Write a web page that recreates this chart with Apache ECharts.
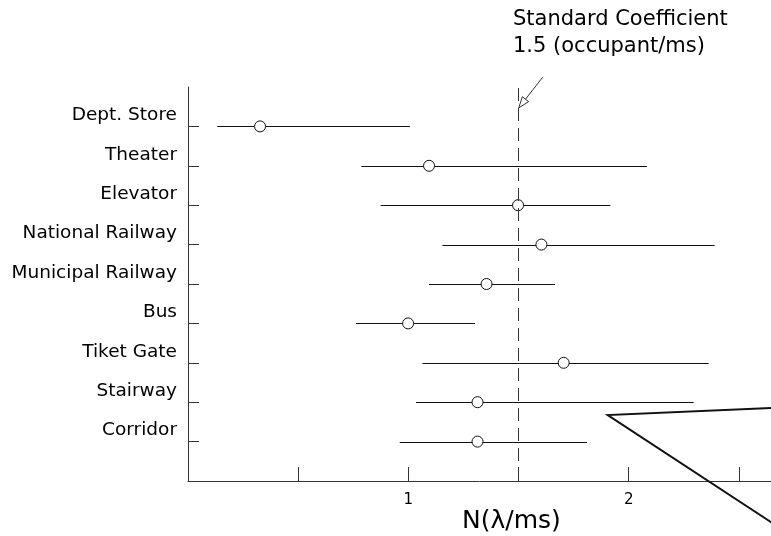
<!DOCTYPE html>
<html>
<head>
<meta charset="utf-8">
<script src="https://cdn.jsdelivr.net/npm/echarts@6/dist/echarts.min.js"></script>
<style>html,body{margin:0;padding:0;background:#fff;}#c{width:771px;height:536px;}</style>
</head>
<body>
<div id="c"></div>
<script>
// Categories, top to bottom
const categories = ['Dept. Store', 'Theater', 'Elevator', 'National Railway', 'Municipal Railway', 'Bus', 'Tiket Gate', 'Stairway', 'Corridor'];
// Mean values (circles)
const meanValues = [0.327, 1.094, 1.498, 1.604, 1.355, 0.999, 1.705, 1.314, 1.314];
// Range lower / upper ends
const lowValues = [0.133, 0.787, 0.874, 1.155, 1.094, 0.762, 1.064, 1.035, 0.961];
const highValues = [1.007, 2.083, 1.917, 2.390, 1.666, 1.303, 2.363, 2.295, 1.811];
// Reference line (standard coefficient)
const standardValue = 1.5;
// X tick positions and labelled ticks
const xTickValues = [0.5, 1, 1.5, 2, 2.5];
const xLabelValues = [1, 2];
// Annotation texts
const annotationText = 'Standard Coefficient\n1.5 (occupant/ms)';
const xAxisTitle = 'N(\u03bb/ms)';
// Annotation arrow (data space): tail -> head
const arrowPoints = [[1.61, 10.25], [1.501, 9.47]];
// Callout polyline at lower right (data space)
const calloutPoints = [[2.776, 1.883], [1.905, 1.675], [2.776, -1.52]];

const n = categories.length;
const yOf = i => n - i; // Dept. Store at top (9), Corridor at bottom (1)
const yTickValues = categories.map((c, i) => yOf(i));
const FONT = 'DejaVu Sans';

const chart = echarts.init(document.getElementById('c'), null, {renderer: 'canvas'});

const rangeData = categories.map((c, i) => [lowValues[i], highValues[i], yOf(i)]);
const meanData = categories.map((c, i) => [meanValues[i], yOf(i)]);

chart.setOption({
  animation: false,
  backgroundColor: '#fff',
  grid: {left: 188, top: 87, right: 0, bottom: 55, containLabel: false},
  xAxis: {
    type: 'value', min: 0, max: 2.646,
    axisLine: {show: true, lineStyle: {color: '#333', width: 1}},
    axisTick: {show: true, inside: true, length: 14, customValues: xTickValues, lineStyle: {color: '#333'}},
    axisLabel: {customValues: xLabelValues, margin: 12, fontFamily: FONT, fontSize: 15, color: '#000'},
    splitLine: {show: false}
  },
  yAxis: {
    type: 'value', min: 0, max: 10,
    axisLine: {show: true, lineStyle: {color: '#333', width: 1}},
    axisTick: {show: true, inside: true, length: 11, customValues: yTickValues, lineStyle: {color: '#333'}},
    axisLabel: {
      customValues: yTickValues, margin: 11, fontFamily: FONT, fontSize: 18.5, color: '#000',
      verticalAlign: 'bottom', lineHeight: 22,
      formatter: v => categories[n - Math.round(v)]
    },
    splitLine: {show: false}
  },
  graphic: [
    {type: 'text', left: 513, top: 6, style: {text: annotationText, fontFamily: FONT, fontSize: 21, lineHeight: 27, fill: '#000'}},
    {type: 'text', left: 462, top: 509, style: {text: xAxisTitle, fontFamily: FONT, fontSize: 25, fill: '#000'}}
  ],
  series: [
    {
      type: 'custom', name: 'range', data: rangeData, z: 2,
      renderItem: (params, api) => {
        const p1 = api.coord([api.value(0), api.value(2)]);
        const p2 = api.coord([api.value(1), api.value(2)]);
        return {type: 'line', shape: {x1: p1[0], y1: Math.round(p1[1]) + 0.5, x2: p2[0], y2: Math.round(p2[1]) + 0.5}, style: {stroke: '#111', lineWidth: 1}};
      }
    },
    {
      type: 'scatter', name: 'mean', data: meanData, z: 3,
      symbol: 'circle', symbolSize: 11,
      itemStyle: {color: '#fff', borderColor: '#111', borderWidth: 1, opacity: 1},
      markLine: {
        silent: true, symbol: ['none', 'none'],
        label: {show: false},
        lineStyle: {color: '#333', type: [13, 7], width: 1},
        data: [{xAxis: standardValue}]
      }
    },
    {
      type: 'custom', name: 'annotations', data: [0], clip: false, z: 4, silent: true,
      renderItem: (params, api) => {
        const a = api.coord(arrowPoints[0]);
        const b = api.coord(arrowPoints[1]);
        const ang = Math.atan2(b[1] - a[1], b[0] - a[0]);
        const L = 11, W = 4;
        const bx = b[0] - L * Math.cos(ang), by = b[1] - L * Math.sin(ang);
        const px = -Math.sin(ang) * W, py = Math.cos(ang) * W;
        const pts = calloutPoints.map(p => api.coord(p));
        return {type: 'group', children: [
          {type: 'line', shape: {x1: a[0], y1: a[1], x2: bx, y2: by}, style: {stroke: '#333', lineWidth: 1}},
          {type: 'polygon', shape: {points: [[b[0], b[1]], [bx + px, by + py], [bx - px, by - py]]}, style: {fill: '#fff', stroke: '#333', lineWidth: 1}},
          {type: 'polyline', shape: {points: pts}, style: {stroke: '#111', lineWidth: 2, fill: null}}
        ]};
      }
    }
  ]
});
</script>
</body>
</html>
